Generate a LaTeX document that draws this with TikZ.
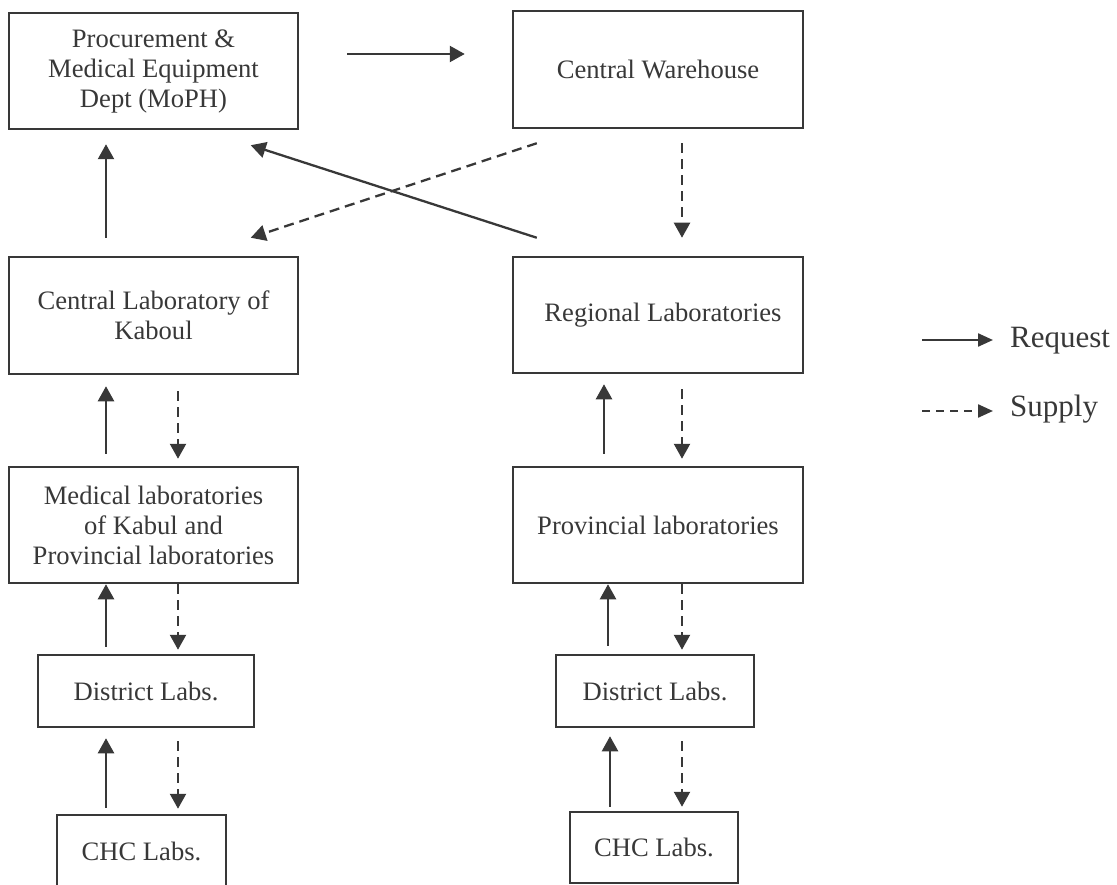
\documentclass[tikz,border=0pt]{standalone}
\usepackage{fontspec}
\setmainfont{Liberation Serif}
\usetikzlibrary{arrows.meta,calc}
\definecolor{ink}{HTML}{383838}
\begin{document}
\begin{tikzpicture}[x=1pt,y=-1pt,
  box/.style={draw=ink, line width=2.5pt, rectangle, inner sep=0pt,
    align=center, text=ink, font=\fontsize{26.6}{30}\selectfont},
  req/.style={draw=ink, line width=2.3pt, -{Triangle[length=15pt,width=16pt]}},
  sup/.style={req, dash pattern=on 10pt off 6pt},
  legtext/.style={text=ink, inner sep=0pt, font=\fontsize{31}{36}\selectfont},
]
\useasboundingbox (0,0) rectangle (1117,885);
\clip (0,0) rectangle (1117,885);

% boxes
\node[box, minimum width=289pt, minimum height=116pt] (proc) at (153.5,71)
  {Procurement \&\\Medical Equipment\\Dept (MoPH)};
\node[box, minimum width=290pt, minimum height=117pt] (wh) at (658,69.5)
  {Central Warehouse};
\node[box, minimum width=289pt, minimum height=117pt] (cl) at (153.5,315.5)
  {Central Laboratory of\\Kaboul};
\node[box, minimum width=290pt, minimum height=116pt] (reg) at (658,315)
  {\hspace*{10pt}Regional Laboratories};
\node[box, minimum width=289pt, minimum height=116pt] (med) at (153.5,525)
  {Medical laboratories\\of Kabul and\\Provincial laboratories};
\node[box, minimum width=290pt, minimum height=116pt] (prov) at (658,525)
  {Provincial laboratories};
\node[box, minimum width=216pt, minimum height=72pt] (dl) at (146,691)
  {District Labs.};
\node[box, minimum width=198pt, minimum height=72pt] (dr) at (655,691)
  {District Labs.};
\node[box, minimum width=169pt, minimum height=72pt] (chl) at (141.5,851)
  {CHC Labs.};
\node[box, minimum width=168pt, minimum height=71pt] (chr) at (654,847.5)
  {CHC Labs.};

% columns and rows used by the connectors
\coordinate (top) at (0,54);
\coordinate (lq) at (106,0);
\coordinate (ls) at (178,0);
\coordinate (rqa) at (604,0);
\coordinate (rqb) at (608,0);
\coordinate (rqc) at (610,0);
\coordinate (rs) at (682,0);

% top row
\draw[req] ($(proc.east |- top)+(48,0)$) -- ($(wh.west |- top)+(-47,0)$);
\draw[req] ($(reg.north west)+(25,-18)$) -- ($(proc.south west)+(243,15)$);
\draw[sup] ($(wh.south west)+(25,14)$) -- ($(cl.north west)+(243,-18)$);
\draw[sup] ($(wh.south -| rs)+(0,14)$) -- ($(reg.north -| rs)+(0,-18)$);

% left chain
\draw[req] ($(cl.north -| lq)+(0,-18)$) -- ($(proc.south -| lq)+(0,14)$);
\draw[req] ($(med.north -| lq)+(0,-12)$) -- ($(cl.south -| lq)+(0,11)$);
\draw[sup] ($(cl.south -| ls)+(0,16)$) -- ($(med.north -| ls)+(0,-7)$);
\draw[req] ($(dl.north -| lq)+(0,-7)$) -- (med.south -| lq);
\draw[sup] (med.south -| ls) -- ($(dl.north -| ls)+(0,-4)$);
\draw[req] ($(chl.north -| lq)+(0,-6)$) -- ($(dl.south -| lq)+(0,10)$);
\draw[sup] ($(dl.south -| ls)+(0,13)$) -- ($(chl.north -| ls)+(0,-5)$);

% right chain
\draw[req] ($(prov.north -| rqa)+(0,-12)$) -- ($(reg.south -| rqa)+(0,10)$);
\draw[sup] ($(reg.south -| rs)+(0,15)$) -- ($(prov.north -| rs)+(0,-7)$);
\draw[req] ($(dr.north -| rqb)+(0,-8)$) -- (prov.south -| rqb);
\draw[sup] (prov.south -| rs) -- ($(dr.north -| rs)+(0,-4)$);
\draw[req] ($(chr.north -| rqc)+(0,-4)$) -- ($(dr.south -| rqc)+(0,8)$);
\draw[sup] ($(dr.south -| rs)+(0,13)$) -- ($(chr.north -| rs)+(0,-4)$);

% legend
\coordinate (lr0) at (922,340);
\coordinate (lr1) at (993,340);
\coordinate (ls0) at (922,411);
\coordinate (ls1) at (993,411);
\draw[req, -{Triangle[length=15pt,width=13pt]}] (lr0) -- (lr1);
\draw[sup, dash pattern=on 8pt off 6pt, -{Triangle[length=15pt,width=13pt]}] (ls0) -- (ls1);
\node[legtext, anchor=base west] (lrt) at (1010,348) {Request};
\node[legtext, anchor=base west] (lst) at (1010,416) {Supply};
\end{tikzpicture}
\end{document}
